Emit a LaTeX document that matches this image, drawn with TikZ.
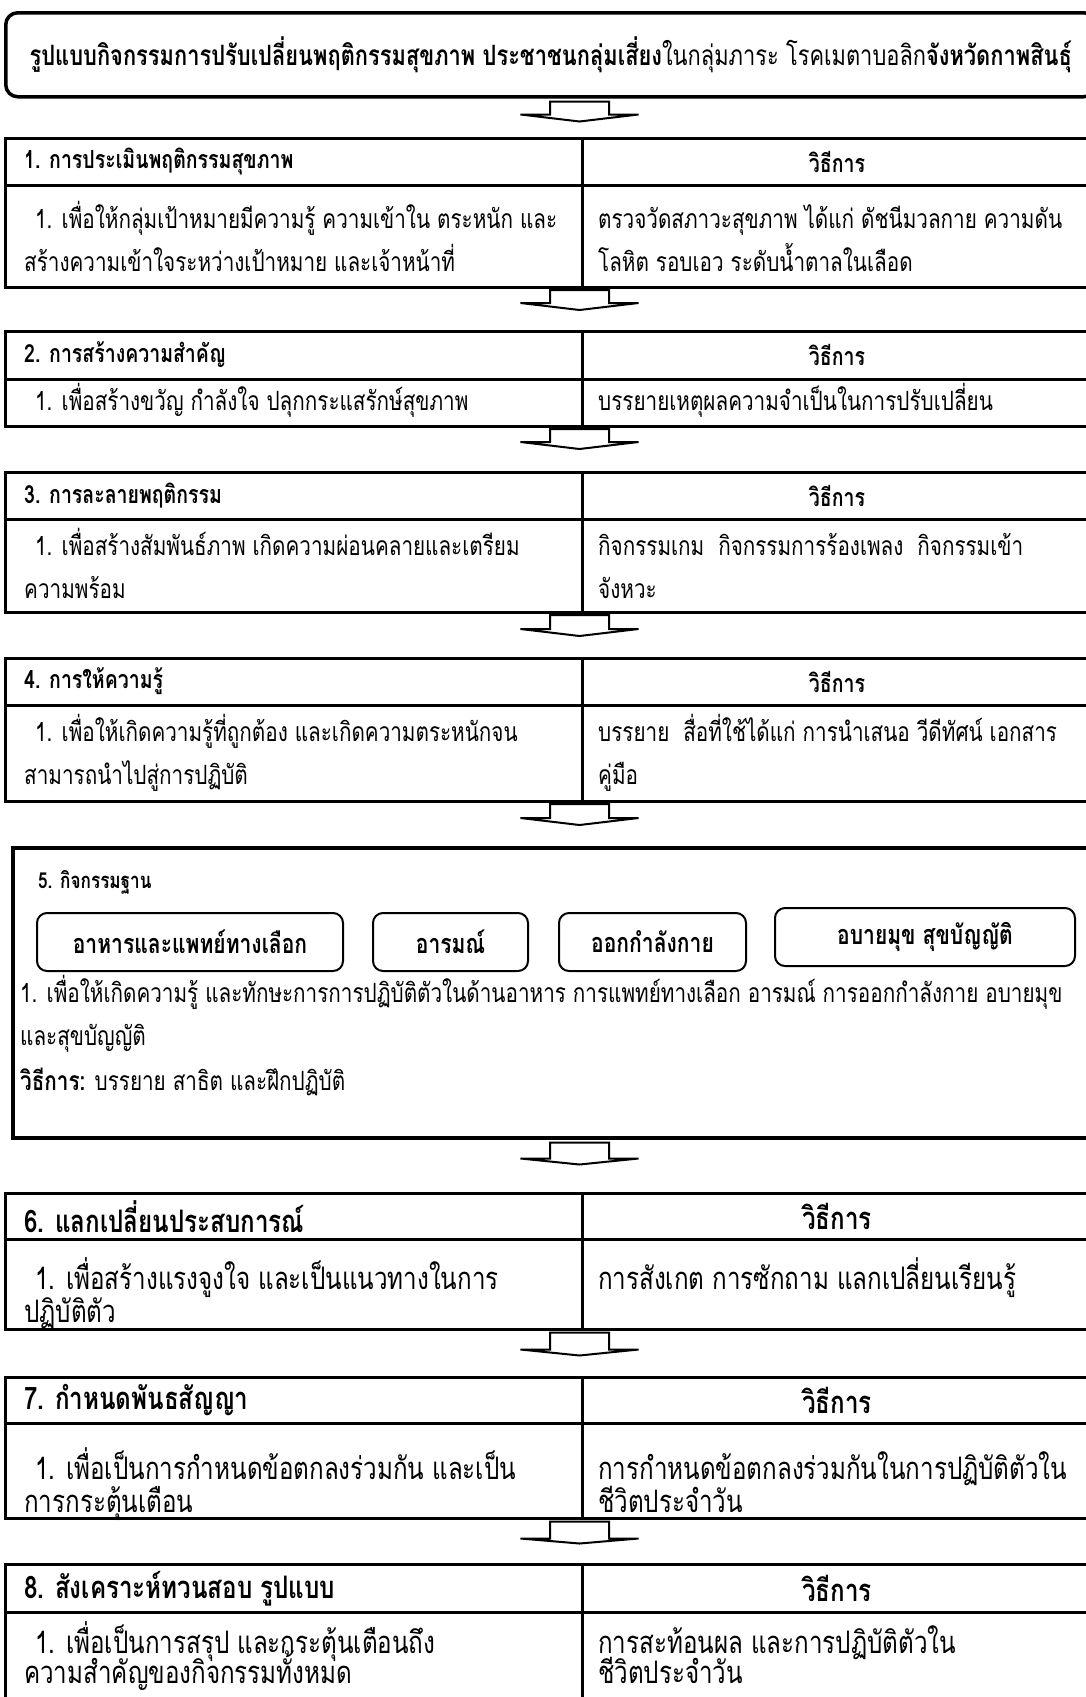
\documentclass[tikz,border=0pt]{standalone}
\usepackage{fontspec}
\setmainfont{Loma}[Script=Thai,FakeStretch=0.78]
\usetikzlibrary{positioning}

\newcommand{\txtmain}{\fontsize{26.5}{43}\selectfont\lineskiplimit=-30pt}
\newcommand{\txtbig}{\fontsize{31}{33}\selectfont\lineskiplimit=-30pt}

\tikzset{
  cell/.style={draw, line width=3pt, outer sep=0pt, inner sep=0pt, anchor=north west},
  headl/.style={cell, minimum width=577pt},
  headr/.style={cell, minimum width=510pt, font=\fontsize{25}{30}\selectfont\bfseries},
  bodyl/.style={cell, minimum width=577pt},
  bodyr/.style={cell, minimum width=510pt},
  headtxt/.style={anchor=west, inner sep=0pt, font=\fontsize{25}{30}\selectfont\bfseries},
  celltxt/.style={anchor=base west, inner sep=0pt, align=left, font=\txtmain},
  flowarrow/.style={draw, fill=white, line width=2pt, line join=miter},
  basebox/.style={draw, line width=2pt, rounded corners=10pt, minimum height=58pt, font=\fontsize{27}{30}\selectfont\bfseries}
}

\begin{document}
\begin{tikzpicture}[x=1pt,y=1pt]

\useasboundingbox (0,0) rectangle (1085,-1697);

%%%%%%%%%%%%%%%%%%%%%%%%%%%%%%%%%%%%%%%%%%%%%%%%%%%%%%%%%%%%%%
% TITLE
%%%%%%%%%%%%%%%%%%%%%%%%%%%%%%%%%%%%%%%%%%%%%%%%%%%%%%%%%%%%%%

\node[
draw,
line width=3.5pt,
rounded corners=12pt,
anchor=north west,
minimum width=1090pt,
minimum height=84pt,
font=\fontsize{28}{30}\selectfont
](title)
at (4,-11)
{\textbf{รูปแบบกิจกรรมการปรับเปลี่ยนพฤติกรรมสุขภาพ ประชาชนกลุ่มเสี่ยง}ในกลุ่มภาระ โรคเมตาบอลิก\textbf{จังหวัดกาพสินธุ์}};

%%%%%%%%%%%%%%%%%%%%%%%%%%%%%%%%%%%%%%%%%%%%%%%%%%%%%%%%%%%%%%
% 1. ASSESSMENT
%%%%%%%%%%%%%%%%%%%%%%%%%%%%%%%%%%%%%%%%%%%%%%%%%%%%%%%%%%%%%%

\node[headl, minimum height=47pt](t1hl) at (5,-138) {};
\node[headr, minimum height=47pt](t1hr) at (t1hl.north east) {วิธีการ};
\node[bodyl, minimum height=102pt](t1bl) at (t1hl.south west) {};
\node[bodyr, minimum height=102pt](t1br) at (t1bl.north east) {};

\node[headtxt](t1name) at ([xshift=19pt]t1hl.west) {1. การประเมินพฤติกรรมสุขภาพ};
\node[celltxt](t1aim) at ([xshift=19pt,yshift=-86pt]t1bl.north west)
{\hspace*{11pt}1. เพื่อให้กลุ่มเป้าหมายมีความรู้ ความเข้าใน ตระหนัก และ\\สร้างความเข้าใจระหว่างเป้าหมาย และเจ้าหน้าที่};
\node[celltxt](t1how) at ([xshift=16pt,yshift=-86pt]t1br.north west)
{ตรวจวัดสภาวะสุขภาพ ได้แก่ ดัชนีมวลกาย ความดัน\\โลหิต รอบเอว ระดับน้ำตาลในเลือด};

%%%%%%%%%%%%%%%%%%%%%%%%%%%%%%%%%%%%%%%%%%%%%%%%%%%%%%%%%%%%%%
% 2. MOTIVATION
%%%%%%%%%%%%%%%%%%%%%%%%%%%%%%%%%%%%%%%%%%%%%%%%%%%%%%%%%%%%%%

\node[headl, minimum height=48pt](t2hl) at ([yshift=-44pt]t1bl.south west) {};
\node[headr, minimum height=48pt](t2hr) at (t2hl.north east) {วิธีการ};
\node[bodyl, minimum height=47pt](t2bl) at (t2hl.south west) {};
\node[bodyr, minimum height=47pt](t2br) at (t2bl.north east) {};

\node[headtxt](t2name) at ([xshift=19pt]t2hl.west) {2. การสร้างความสำคัญ};
\node[celltxt](t2aim) at ([xshift=19pt,yshift=-31pt]t2bl.north west)
{\hspace*{11pt}1. เพื่อสร้างขวัญ กำลังใจ ปลุกกระแสรักษ์สุขภาพ};
\node[celltxt](t2how) at ([xshift=16pt,yshift=-31pt]t2br.north west)
{บรรยายเหตุผลความจำเป็นในการปรับเปลี่ยน};

%%%%%%%%%%%%%%%%%%%%%%%%%%%%%%%%%%%%%%%%%%%%%%%%%%%%%%%%%%%%%%
% 3. ICE BREAKING
%%%%%%%%%%%%%%%%%%%%%%%%%%%%%%%%%%%%%%%%%%%%%%%%%%%%%%%%%%%%%%

\node[headl, minimum height=47pt](t3hl) at ([yshift=-46pt]t2bl.south west) {};
\node[headr, minimum height=47pt](t3hr) at (t3hl.north east) {วิธีการ};
\node[bodyl, minimum height=93pt](t3bl) at (t3hl.south west) {};
\node[bodyr, minimum height=93pt](t3br) at (t3bl.north east) {};

\node[headtxt](t3name) at ([xshift=19pt]t3hl.west) {3. การละลายพฤติกรรม};
\node[celltxt](t3aim) at ([xshift=19pt,yshift=-79pt]t3bl.north west)
{\hspace*{11pt}1. เพื่อสร้างสัมพันธ์ภาพ เกิดความผ่อนคลายและเตรียม\\ความพร้อม};
\node[celltxt](t3how) at ([xshift=16pt,yshift=-79pt]t3br.north west)
{กิจกรรมเกม\ \ กิจกรรมการร้องเพลง\ \ กิจกรรมเข้า\\จังหวะ};

%%%%%%%%%%%%%%%%%%%%%%%%%%%%%%%%%%%%%%%%%%%%%%%%%%%%%%%%%%%%%%
% 4. KNOWLEDGE
%%%%%%%%%%%%%%%%%%%%%%%%%%%%%%%%%%%%%%%%%%%%%%%%%%%%%%%%%%%%%%

\node[headl, minimum height=47pt](t4hl) at ([yshift=-46pt]t3bl.south west) {};
\node[headr, minimum height=47pt](t4hr) at (t4hl.north east) {วิธีการ};
\node[bodyl, minimum height=96pt](t4bl) at (t4hl.south west) {};
\node[bodyr, minimum height=96pt](t4br) at (t4bl.north east) {};

\node[headtxt](t4name) at ([xshift=19pt]t4hl.west) {4. การให้ความรู้};
\node[celltxt](t4aim) at ([xshift=19pt,yshift=-79pt]t4bl.north west)
{\hspace*{11pt}1. เพื่อให้เกิดความรู้ที่ถูกต้อง และเกิดความตระหนักจน\\สามารถนำไปสู่การปฏิบัติ};
\node[celltxt](t4how) at ([xshift=16pt,yshift=-79pt]t4br.north west)
{บรรยาย\ \ สื่อที่ใช้ได้แก่ การนำเสนอ วีดีทัศน์ เอกสาร\\คู่มือ};

%%%%%%%%%%%%%%%%%%%%%%%%%%%%%%%%%%%%%%%%%%%%%%%%%%%%%%%%%%%%%%
% 5. ACTIVITY STATIONS
%%%%%%%%%%%%%%%%%%%%%%%%%%%%%%%%%%%%%%%%%%%%%%%%%%%%%%%%%%%%%%

\node[
draw,
line width=3.5pt,
anchor=north west,
minimum width=1090pt,
minimum height=290pt
](t5)
at ([xshift=6pt,yshift=-45pt]t4bl.south west)
{};

\node[font=\fontsize{22}{28}\selectfont\bfseries, anchor=west, inner sep=0pt](t5name)
at ([xshift=27pt,yshift=-36pt]t5.north west)
{5. กิจกรรมฐาน};

\node[basebox, minimum width=306pt, anchor=north west](food)
at ([xshift=25pt,yshift=-66pt]t5.north west)
{อาหารและแพทย์ทางเลือก};

\node[basebox, minimum width=155pt, right=28pt of food](mood)
{อารมณ์};

\node[basebox, minimum width=187pt, right=29pt of mood](exercise)
{ออกกำลังกาย};

\node[basebox, minimum width=300pt, right=27pt of exercise, yshift=5pt](vice)
{อบายมุข สุขบัญญัติ};

\node[font=\txtmain, anchor=west, inner sep=0pt](t5aim)
at ([xshift=9pt,yshift=-146pt]t5.north west)
{1. เพื่อให้เกิดความรู้ และทักษะการการปฏิบัติตัวในด้านอาหาร การแพทย์ทางเลือก อารมณ์ การออกกำลังกาย อบายมุข};

\node[font=\txtmain, anchor=west, inner sep=0pt](t5aim2)
at ([xshift=9pt,yshift=-192pt]t5.north west)
{และสุขบัญญัติ};

\node[font=\txtmain, anchor=west, inner sep=0pt](t5how)
at ([xshift=9pt,yshift=-236pt]t5.north west)
{\textbf{วิธีการ:} บรรยาย สาธิต และฝึกปฏิบัติ};

%%%%%%%%%%%%%%%%%%%%%%%%%%%%%%%%%%%%%%%%%%%%%%%%%%%%%%%%%%%%%%
% 6. SHARING
%%%%%%%%%%%%%%%%%%%%%%%%%%%%%%%%%%%%%%%%%%%%%%%%%%%%%%%%%%%%%%

\node[headl, minimum height=46pt](t6hl) at ([xshift=-6pt,yshift=-54pt]t5.south west) {};
\node[headr, minimum height=46pt, font=\fontsize{31}{33}\selectfont\bfseries](t6hr) at (t6hl.north east) {วิธีการ};
\node[bodyl, minimum height=90pt](t6bl) at (t6hl.south west) {};
\node[bodyr, minimum height=90pt](t6br) at (t6bl.north east) {};

\node[headtxt, font=\fontsize{31}{33}\selectfont\bfseries](t6name) at ([xshift=19pt]t6hl.west) {6. แลกเปลี่ยนประสบการณ์};
\node[celltxt, font=\txtbig](t6aim) at ([xshift=19pt,yshift=-83pt]t6bl.north west)
{\hspace*{11pt}1. เพื่อสร้างแรงจูงใจ และเป็นแนวทางในการ\\ปฏิบัติตัว};
\node[celltxt, font=\txtbig](t6how) at ([xshift=16pt,yshift=-50pt]t6br.north west)
{การสังเกต การซักถาม แลกเปลี่ยนเรียนรู้};

%%%%%%%%%%%%%%%%%%%%%%%%%%%%%%%%%%%%%%%%%%%%%%%%%%%%%%%%%%%%%%
% 7. COMMITMENT
%%%%%%%%%%%%%%%%%%%%%%%%%%%%%%%%%%%%%%%%%%%%%%%%%%%%%%%%%%%%%%

\node[headl, minimum height=46pt](t7hl) at ([yshift=-48pt]t6bl.south west) {};
\node[headr, minimum height=46pt, font=\fontsize{31}{33}\selectfont\bfseries](t7hr) at (t7hl.north east) {วิธีการ};
\node[bodyl, minimum height=95pt](t7bl) at (t7hl.south west) {};
\node[bodyr, minimum height=95pt](t7br) at (t7bl.north east) {};

\node[headtxt, font=\fontsize{31}{33}\selectfont\bfseries](t7name) at ([xshift=19pt]t7hl.west) {7. กำหนดพันธสัญญา};
\node[celltxt, font=\txtbig](t7aim) at ([xshift=19pt,yshift=-89pt]t7bl.north west)
{\hspace*{11pt}1. เพื่อเป็นการกำหนดข้อตกลงร่วมกัน และเป็น\\การกระตุ้นเตือน};
\node[celltxt, font=\txtbig](t7how) at ([xshift=16pt,yshift=-89pt]t7br.north west)
{การกำหนดข้อตกลงร่วมกันในการปฏิบัติตัวใน\\ชีวิตประจำวัน};

%%%%%%%%%%%%%%%%%%%%%%%%%%%%%%%%%%%%%%%%%%%%%%%%%%%%%%%%%%%%%%
% 8. REVIEW
%%%%%%%%%%%%%%%%%%%%%%%%%%%%%%%%%%%%%%%%%%%%%%%%%%%%%%%%%%%%%%

\node[headl, minimum height=48pt](t8hl) at ([yshift=-46pt]t7bl.south west) {};
\node[headr, minimum height=48pt, font=\fontsize{31}{33}\selectfont\bfseries](t8hr) at (t8hl.north east) {วิธีการ};
\node[bodyl, minimum height=100pt](t8bl) at (t8hl.south west) {};
\node[bodyr, minimum height=100pt](t8br) at (t8bl.north east) {};

\node[headtxt, font=\fontsize{31}{33}\selectfont\bfseries](t8name) at ([xshift=19pt]t8hl.west) {8. สังเคราะห์ทวนสอบ รูปแบบ};
\node[celltxt, font=\txtbig](t8aim) at ([xshift=19pt,yshift=-71pt]t8bl.north west)
{\hspace*{11pt}1. เพื่อเป็นการสรุป และกระตุ้นเตือนถึง\\[-3pt]ความสำคัญของกิจกรรมทั้งหมด};
\node[celltxt, font=\txtbig](t8how) at ([xshift=16pt,yshift=-71pt]t8br.north west)
{การสะท้อนผล และการปฏิบัติตัวใน\\[-3pt]ชีวิตประจำวัน};

%%%%%%%%%%%%%%%%%%%%%%%%%%%%%%%%%%%%%%%%%%%%%%%%%%%%%%%%%%%%%%
% CONNECTIONS
%%%%%%%%%%%%%%%%%%%%%%%%%%%%%%%%%%%%%%%%%%%%%%%%%%%%%%%%%%%%%%

\draw[flowarrow] ([xshift=546pt,yshift=-3pt]title.south west) -- ++(0,-13) -- ++(-29.5,0) -- ++(59,-7) -- ++(59,7) -- ++(-29.5,0) -- ++(0,13) -- cycle;
\draw[flowarrow] ([xshift=-32pt,yshift=-3pt]t1bl.south east) -- ++(0,-13) -- ++(-29.5,0) -- ++(59,-7) -- ++(59,7) -- ++(-29.5,0) -- ++(0,13) -- cycle;
\draw[flowarrow] ([xshift=-32pt,yshift=-3pt]t2bl.south east) -- ++(0,-13) -- ++(-29.5,0) -- ++(59,-7) -- ++(59,7) -- ++(-29.5,0) -- ++(0,13) -- cycle;
\draw[flowarrow] ([xshift=-32pt,yshift=-3pt]t3bl.south east) -- ++(0,-14) -- ++(-29.5,0) -- ++(59,-7) -- ++(59,7) -- ++(-29.5,0) -- ++(0,14) -- cycle;
\draw[flowarrow] ([xshift=-32pt,yshift=-3pt]t4bl.south east) -- ++(0,-14) -- ++(-29.5,0) -- ++(59,-7) -- ++(59,7) -- ++(-29.5,0) -- ++(0,14) -- cycle;
\draw[flowarrow] ([xshift=539pt,yshift=-3pt]t5.south west) -- ++(0,-16) -- ++(-29.5,0) -- ++(59,-6) -- ++(59,6) -- ++(-29.5,0) -- ++(0,16) -- cycle;
\draw[flowarrow] ([xshift=-32pt,yshift=-3pt]t6bl.south east) -- ++(0,-17) -- ++(-29.5,0) -- ++(59,-6) -- ++(59,6) -- ++(-29.5,0) -- ++(0,17) -- cycle;
\draw[flowarrow] ([xshift=-32pt,yshift=-3pt]t7bl.south east) -- ++(0,-17) -- ++(-29.5,0) -- ++(59,-5) -- ++(59,5) -- ++(-29.5,0) -- ++(0,17) -- cycle;

\end{tikzpicture}
\end{document}
